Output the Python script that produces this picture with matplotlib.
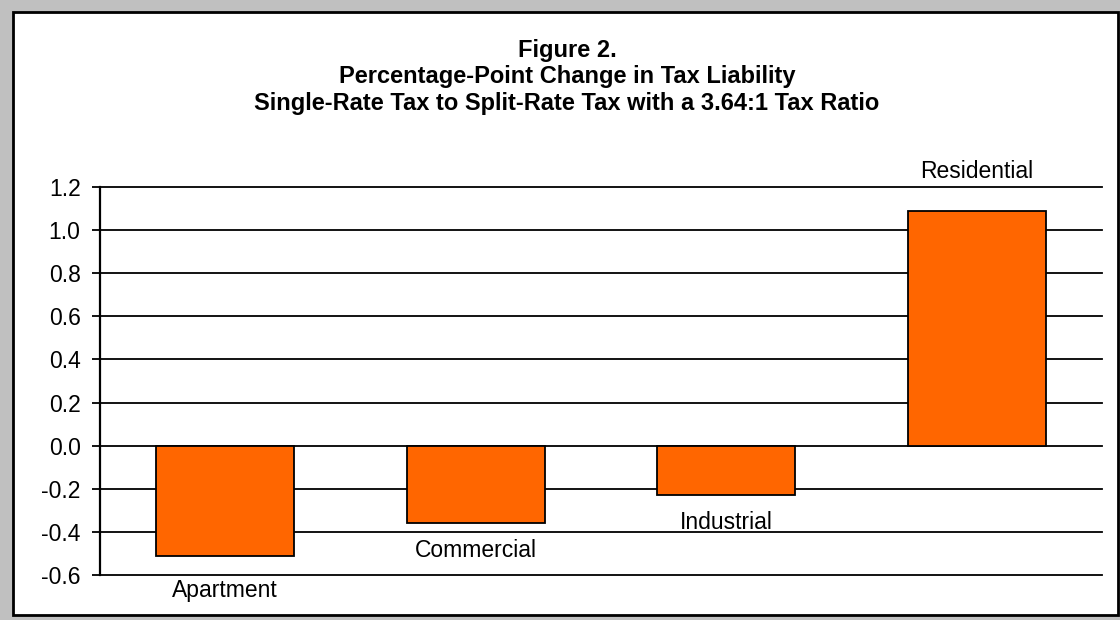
import matplotlib
matplotlib.use("Agg")
import matplotlib.pyplot as plt
from matplotlib.patches import Rectangle

# Percentage-point change in tax liability by property class
categories = ["Apartment", "Commercial", "Industrial", "Residential"]
changes = [-0.51, -0.36, -0.23, 1.09]
y_ticks = [-0.6, -0.4, -0.2, 0.0, 0.2, 0.4, 0.6, 0.8, 1.0, 1.2]
title_lines = [
    "Figure 2.",
    "Percentage-Point Change in Tax Liability",
    "Single-Rate Tax to Split-Rate Tax with a 3.64:1 Tax Ratio",
]

plt.rcParams["font.family"] = ["Liberation Sans", "DejaVu Sans"]

W, H = 1120, 620
fig = plt.figure(figsize=(W / 100, H / 100), dpi=100, facecolor="#C0C0C0")

# white chart area with black border
fig.patches.append(Rectangle((13 / W, 1 - 615 / H), (1118 - 13) / W, (615 - 12) / H,
                             transform=fig.transFigure, facecolor="white",
                             edgecolor="black", linewidth=2.0, zorder=-5))

fig.text(567 / W, 1 - 77 / H, "\n".join(title_lines), ha="center", va="center",
         fontsize=17, fontweight="bold", linespacing=1.22)

ax = fig.add_axes([100 / W, 1 - 575 / H, 1002 / W, 388 / H])
ax.set_facecolor("none")

x = [i + 0.5 for i in range(len(categories))]
ax.bar(x, changes, width=0.55, color="#FF6600", edgecolor="black", linewidth=1.3, zorder=3)

ax.set_xlim(0, len(categories))
ax.set_ylim(min(y_ticks), max(y_ticks))
ax.set_yticks(y_ticks)
ax.set_yticklabels([f"{t:.1f}" for t in y_ticks], fontsize=16.5)
ax.set_xticks([])
ax.yaxis.grid(True, color="black", linewidth=1.3, zorder=1)
ax.set_axisbelow(True)
for gl in ax.get_ygridlines():
    gl.set_clip_on(False)
ax.tick_params(axis="y", direction="out", length=6, width=1.3, color="black", pad=8)
for side in ("top", "right", "bottom"):
    ax.spines[side].set_visible(False)
ax.spines["left"].set_linewidth(1.6)
ax.spines["left"].set_zorder(4)

# category labels beside bar ends
gaps = [23, 16, 16, 28]
for xi, v, name, gap in zip(x, changes, categories, gaps):
    if v < 0:
        ax.annotate(name, (xi, v), xytext=(0, -gap), textcoords="offset pixels",
                    ha="center", va="top", fontsize=16.5)
    else:
        ax.annotate(name, (xi, v), xytext=(0, gap), textcoords="offset pixels",
                    ha="center", va="bottom", fontsize=16.5)

fig.savefig("out.png", dpi=100, facecolor=fig.get_facecolor())
